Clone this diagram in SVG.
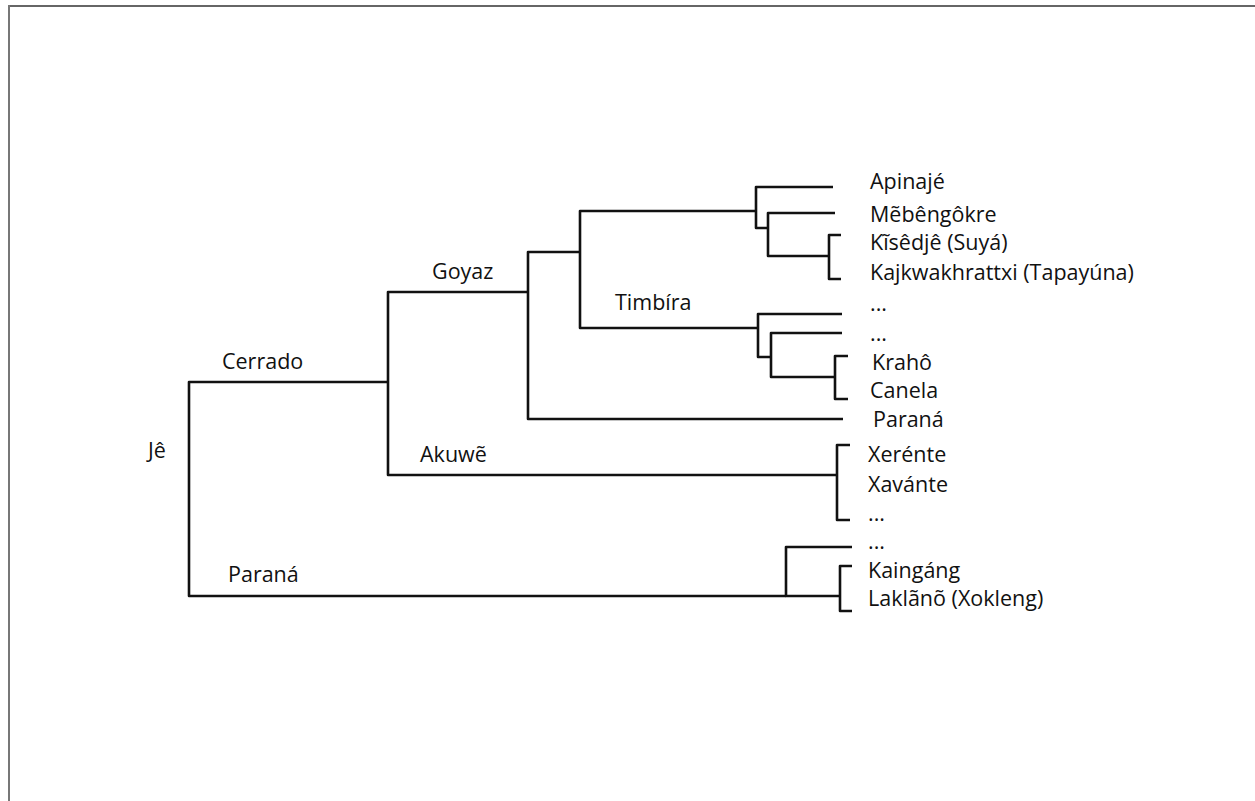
<svg xmlns="http://www.w3.org/2000/svg" width="1255" height="801" viewBox="0 0 1255 801">
<style>
.ln{fill:none;stroke:#111;stroke-width:2.6;stroke-linejoin:round;stroke-linecap:butt}
text{font-family:"Open Sans","Noto Sans","DejaVu Sans",sans-serif;font-size:21.5px;fill:#111}
</style>
<rect x="0" y="0" width="1255" height="801" fill="#ffffff"/>
<line x1="8" y1="6" x2="1255" y2="6" stroke="#333" stroke-width="1.6"/>
<line x1="9" y1="5" x2="9" y2="801" stroke="#777" stroke-width="2"/>
<g id="connectors">
<path class="ln" d="M388,382 H189 V596 H786"/>
<path class="ln" d="M528,292 H388 V475 H837"/>
<path class="ln" d="M580,252 H528 V419 H843"/>
<path class="ln" d="M756,211 H580 V328 H758"/>
<path class="ln" d="M833,187 H756 V228 H768"/>
<path class="ln" d="M835,213 H768 V256 H829"/>
<path class="ln" d="M841,235 H829 V279 H841"/>
<path class="ln" d="M842,314 H758 V357 H771"/>
<path class="ln" d="M842,333 H771 V377 H835"/>
<path class="ln" d="M848,356 H835 V399 H848"/>
<path class="ln" d="M850,445 H837 V520 H850"/>
<path class="ln" d="M852,547 H786 V596 H840"/>
<path class="ln" d="M852,566 H840 V611 H852"/>
</g>
<g id="je"><text x="148" y="458">Jê</text></g>
<g id="cerrado"><text x="222" y="369">Cerrado</text></g>
<g id="parana-branch"><text x="228" y="582">Paraná</text></g>
<g id="goyaz"><text x="432" y="279">Goyaz</text></g>
<g id="akuwe"><text x="420" y="462">Akuwẽ</text></g>
<g id="timbira"><text x="615" y="310">Timbíra</text></g>
<g id="apinaje"><text x="870" y="189">Apinajé</text></g>
<g id="mebengokre"><text x="870" y="222">Mẽbêngôkre</text></g>
<g id="kisedje"><text x="870" y="250">Kĩsêdjê (Suyá)</text></g>
<g id="kajkwakhrattxi"><text x="870" y="280">Kajkwakhrattxi (Tapayúna)</text></g>
<g id="timbira-etc1"><text x="870" y="311">...</text></g>
<g id="timbira-etc2"><text x="870" y="341">...</text></g>
<g id="kraho"><text x="872" y="370">Krahô</text></g>
<g id="canela"><text x="870" y="398">Canela</text></g>
<g id="parana-leaf"><text x="873" y="427">Paraná</text></g>
<g id="xerente"><text x="868" y="462">Xerénte</text></g>
<g id="xavante"><text x="868" y="492">Xavánte</text></g>
<g id="akuwe-etc"><text x="868" y="521">...</text></g>
<g id="parana-etc"><text x="868" y="549">...</text></g>
<g id="kaingang"><text x="868" y="578">Kaingáng</text></g>
<g id="laklano"><text x="868" y="606">Laklãnõ (Xokleng)</text></g>
</svg>
